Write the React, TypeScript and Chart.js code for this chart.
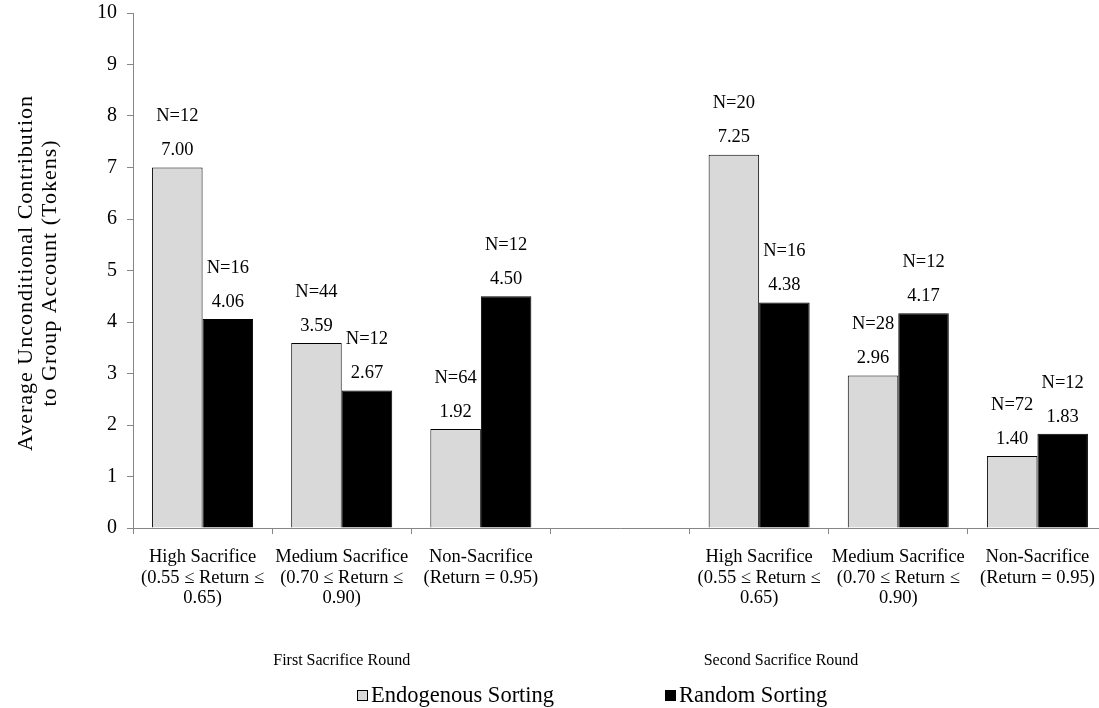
import React, { useEffect, useRef } from "react";
import { Chart, registerables } from "chart.js";

Chart.register(...registerables);

const categories: (string | string[])[] = [
  ["High Sacrifice", "(0.55 ≤ Return ≤", "0.65)"],
  ["Medium Sacrifice", "(0.70 ≤ Return ≤", "0.90)"],
  ["Non-Sacrifice", "(Return = 0.95)"],
  "",
  ["High Sacrifice", "(0.55 ≤ Return ≤", "0.65)"],
  ["Medium Sacrifice", "(0.70 ≤ Return ≤", "0.90)"],
  ["Non-Sacrifice", "(Return = 0.95)"],
];

const endogenousValues = [7.0, 3.59, 1.92, null, 7.25, 2.96, 1.4];
const randomValues = [4.06, 2.67, 4.5, null, 4.38, 4.17, 1.83];
const endogenousN = [12, 44, 64, null, 20, 28, 72];
const randomN = [16, 12, 12, null, 16, 12, 12];

const seriesNames = ["Endogenous Sorting", "Random Sorting"];
const roundNames = ["First Sacrifice Round", "Second Sacrifice Round"];
const yTitleLines = ["Average Unconditional Contribution", "to Group Account (Tokens)"];

const FONT = '"Liberation Serif", "Times New Roman", serif';
const GRAY = "#d9d9d9";
const AXIS = "#868686";

const annotations = {
  id: "annotations",
  afterDatasetsDraw(chart: any) {
    const ctx = chart.ctx;
    ctx.save();
    ctx.fillStyle = "#000";
    ctx.textAlign = "center";
    ctx.textBaseline = "middle";
    ctx.font = `18.5px ${FONT}`;
    chart.data.datasets.forEach((ds: any, di: number) => {
      const meta = chart.getDatasetMeta(di);
      const ns = di === 0 ? endogenousN : randomN;
      meta.data.forEach((bar: any, i: number) => {
        const v = ds.data[i];
        if (v == null) return;
        ctx.fillText(v.toFixed(2), bar.x, bar.y - 17);
        ctx.fillText("N=" + ns[i], bar.x, bar.y - 51);
      });
    });
    ctx.restore();
  },
  afterDraw(chart: any) {
    const ctx = chart.ctx;
    const x = chart.scales.x;
    ctx.save();
    ctx.fillStyle = "#000";
    ctx.textAlign = "center";
    ctx.textBaseline = "middle";
    // round labels
    ctx.font = `16px ${FONT}`;
    const c1 = (x.getPixelForValue(0) + x.getPixelForValue(2)) / 2;
    ctx.fillText(roundNames[0], c1, 661);
    ctx.fillText(roundNames[1], 781, 661);
    // y title
    ctx.save();
    ctx.font = `22px ${FONT}`;
    try {
      (ctx as any).letterSpacing = "1px";
    } catch (e) {}
    ctx.translate(26, 273);
    ctx.rotate(-Math.PI / 2);
    ctx.fillText(yTitleLines[0], 0, 0);
    ctx.fillText(yTitleLines[1], 0, 24);
    ctx.restore();
    // legend
    ctx.font = `22.5px ${FONT}`;
    ctx.textAlign = "left";
    const items = [
      { x: 357, fill: GRAY },
      { x: 665, fill: "#000" },
    ];
    items.forEach((it, i) => {
      ctx.fillStyle = it.fill;
      ctx.fillRect(it.x, 690, 11, 11);
      ctx.strokeStyle = "#000";
      ctx.lineWidth = 1;
      ctx.strokeRect(it.x + 0.5, 690.5, 10, 10);
      ctx.fillStyle = "#000";
      ctx.fillText(seriesNames[i], it.x + 14, 696);
    });
    ctx.restore();
  },
};

export default function App() {
  const ref = useRef<HTMLCanvasElement>(null);
  useEffect(() => {
    document.body.style.overflow = "hidden";
    const chart = new Chart(ref.current!, {
      type: "bar",
      data: {
        labels: categories as any,
        datasets: [
          {
            label: seriesNames[0],
            data: endogenousValues as any,
            backgroundColor: GRAY,
            borderColor: "#000",
            borderWidth: 1,
          },
          {
            label: seriesNames[1],
            data: randomValues as any,
            backgroundColor: "#000",
            borderColor: "#000",
            borderWidth: 1,
          },
        ],
      },
      options: {
        responsive: false,
        animation: false,
        devicePixelRatio: 1,
        layout: { padding: { top: 13, right: 8, left: 0, bottom: 0 } },
        datasets: { bar: { categoryPercentage: 0.726, barPercentage: 1.0 } },
        plugins: { legend: { display: false }, tooltip: { enabled: false } },
        scales: {
          x: {
            grid: { offset: true, drawOnChartArea: false, drawTicks: true, tickLength: 6, color: AXIS },
            border: { color: AXIS },
            ticks: {
              color: "#000",
              font: { family: FONT, size: 18.5, lineHeight: 1.11 },
              padding: 13,
              maxRotation: 0,
              autoSkip: false,
            },
            afterFit: (s: any) => {
              s.height = 180;
              s.paddingLeft = 0;
              s.paddingRight = 0;
            },
          },
          y: {
            min: 0,
            max: 10,
            ticks: { stepSize: 1, color: "#000", font: { family: FONT, size: 20 }, padding: 10 },
            grid: { drawOnChartArea: false, drawTicks: true, tickLength: 6, color: AXIS },
            border: { color: AXIS },
            afterFit: (s: any) => {
              s.width = 133;
              s.paddingTop = 0;
              s.paddingBottom = 0;
            },
          },
        },
      },
      plugins: [annotations],
    });
    return () => chart.destroy();
  }, []);
  return (
    <div style={{ position: "fixed", left: 0, top: 0, width: 1099, height: 708, overflow: "hidden", background: "#fff" }}>
      <canvas ref={ref} width={1115} height={708} style={{ display: "block" }} />
    </div>
  );
}
